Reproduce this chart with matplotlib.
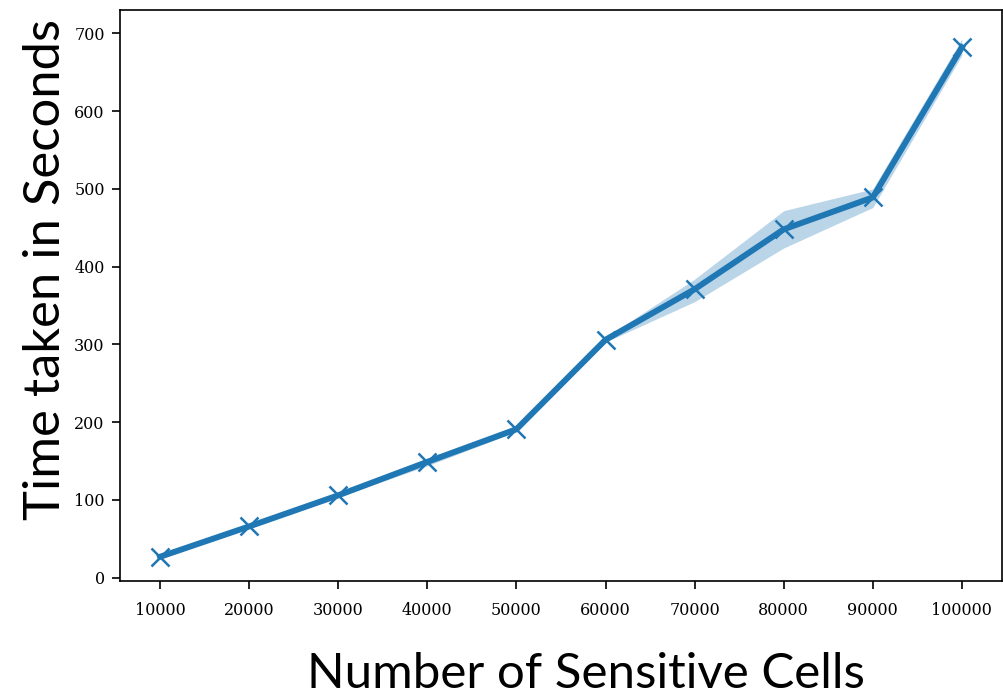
import numpy as np
import matplotlib
matplotlib.use('Agg')
import matplotlib.pyplot as plt

# data
cells = [10000, 20000, 30000, 40000, 50000, 60000, 70000, 80000, 90000, 100000]
time_mean = [27, 66, 106, 149, 191, 306, 371, 448, 489, 682]
time_low = [25, 64, 104, 144, 188, 303, 355, 424, 476, 672]
time_high = [29, 68, 108, 153, 194, 309, 384, 472, 500, 693]

fig = plt.figure(figsize=(10.04, 6.94), dpi=100)
ax = fig.add_axes([0.1195, 0.163, 0.8785, 0.8226])

ax.fill_between(cells, time_low, time_high, color='#1f77b4', alpha=0.3, linewidth=0)
ax.plot(cells, time_mean, color='#1f77b4', linewidth=4.3, marker='x',
        markersize=13, markeredgewidth=1.8)

ax.set_ylim(-4, 730)
ax.set_xticks(cells)
ax.set_yticks([0, 100, 200, 300, 400, 500, 600, 700])

for lbl in ax.get_xticklabels() + ax.get_yticklabels():
    lbl.set_fontfamily('DejaVu Serif')
    lbl.set_fontsize(11.5)
ax.tick_params(length=6, width=1.2)
ax.tick_params(axis='x', pad=9)
ax.tick_params(axis='y', pad=5)
for sp in ax.spines.values():
    sp.set_linewidth(1.2)

ax.set_xlabel('Number of Sensitive Cells', fontfamily='Lato', fontsize=35.5, labelpad=24)
ax.set_ylabel('Time taken in Seconds', fontfamily='Lato', fontsize=36.5, labelpad=4)
ax.xaxis.label.set_x(0.528)
ax.yaxis.label.set_y(0.545)

fig.savefig('out.png', dpi=100)
